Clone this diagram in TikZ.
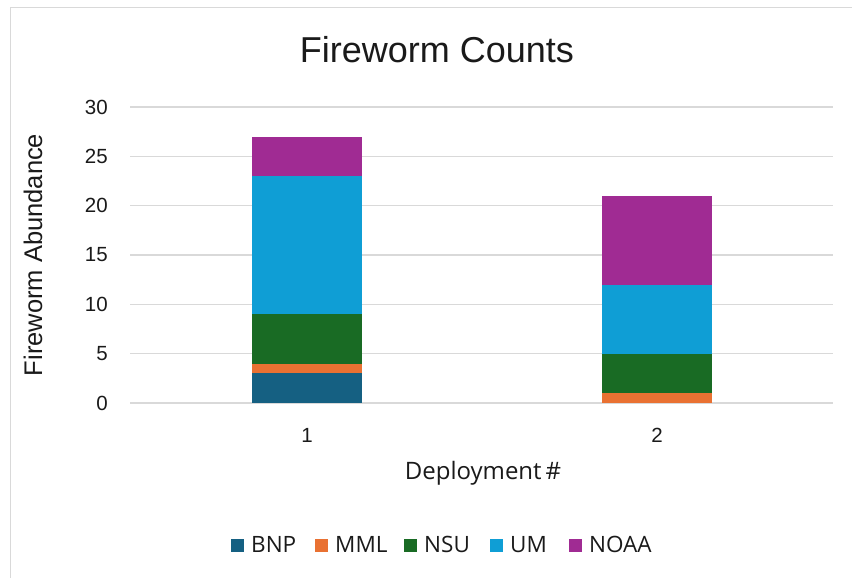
\documentclass[tikz,border=0pt]{standalone}
\usepackage{fontspec}
\setmainfont{Liberation Sans}
\newfontfamily\legendfont{Open Sans}
\definecolor{cBNP}{HTML}{156082}
\definecolor{cMML}{HTML}{E97132}
\definecolor{cNSU}{HTML}{196B24}
\definecolor{cUM}{HTML}{0F9ED5}
\definecolor{cNOAA}{HTML}{A02B93}
\definecolor{gridgray}{HTML}{D9D9D9}
\definecolor{txt}{HTML}{1A1A1A}
\tikzset{
  grid line/.style={draw=gridgray, line width=1.3pt},
  tick label/.style={anchor=east, font=\fontsize{20.5}{20.5}\selectfont, text=txt, inner sep=0pt},
  cat label/.style={anchor=base, font=\fontsize{20.5}{20.5}\selectfont, text=txt, inner sep=0pt},
  legend key/.style={minimum width=13pt, minimum height=13pt, inner sep=0pt, draw=none},
  legend text/.style={anchor=base west, font=\legendfont\fontsize{22.5}{22.5}\selectfont, text=txt, inner sep=0pt},
}
\newcommand{\seg}[4]{\fill[#1] (#2,{403-9.867*#3}) rectangle (#2+110,{403-9.867*#4});}
\begin{document}
\begin{tikzpicture}[x=1pt, y=-1pt]
\useasboundingbox[fill=white] (0,0) rectangle (852,578);
% chart frame (left and top edges)
\draw[gridgray, line width=1pt] (10,578) -- (10,8) -- (852,8);
% title
\node[anchor=base, inner sep=0pt, font=\fontsize{36}{36}\selectfont, text=txt] (title) at (437,63) {Fireworm Counts};
% horizontal grid and value ticks
\foreach \v in {0,5,...,30} {
  \pgfmathsetmacro{\yy}{403-9.867*\v}
  \draw[grid line] (130,\yy) -- (833,\yy);
  \node[tick label] (tick\v) at (108,\yy) {\v};
}
% stacked bars: deployment 1
\seg{cBNP}{252}{0}{3}
\seg{cMML}{252}{3}{4}
\seg{cNSU}{252}{4}{9}
\seg{cUM}{252}{9}{23}
\seg{cNOAA}{252}{23}{27}
% stacked bars: deployment 2
\seg{cMML}{602}{0}{1}
\seg{cNSU}{602}{1}{5}
\seg{cUM}{602}{5}{12}
\seg{cNOAA}{602}{12}{21}
% category labels
\node[cat label] (c1) at (307,442) {1};
\node[cat label] (c2) at (657,442) {2};
% axis titles
\node[anchor=base, inner sep=0pt, font=\legendfont\fontsize{24}{24}\selectfont, text=txt] (xtitle) at (483,479) {Deployment\,\#};
\node[font=\fontsize{25.5}{25.5}\selectfont, text=txt, rotate=90] (ytitle) at (33,255) {Fireworm Abundance};
% legend
\node[legend key, fill=cBNP] (kBNP) at (237.5,545) {};
\node[legend text] (lBNP) at (251,552) {BNP};
\node[legend key, fill=cMML] (kMML) at (321.5,545) {};
\node[legend text] (lMML) at (335,552) {MML};
\node[legend key, fill=cNSU] (kNSU) at (410.5,545) {};
\node[legend text] (lNSU) at (424,552) {NSU};
\node[legend key, fill=cUM] (kUM) at (496.5,545) {};
\node[legend text] (lUM) at (510,552) {UM};
\node[legend key, fill=cNOAA] (kNOAA) at (575.5,545) {};
\node[legend text] (lNOAA) at (589,552) {NOAA};
\end{tikzpicture}
\end{document}
